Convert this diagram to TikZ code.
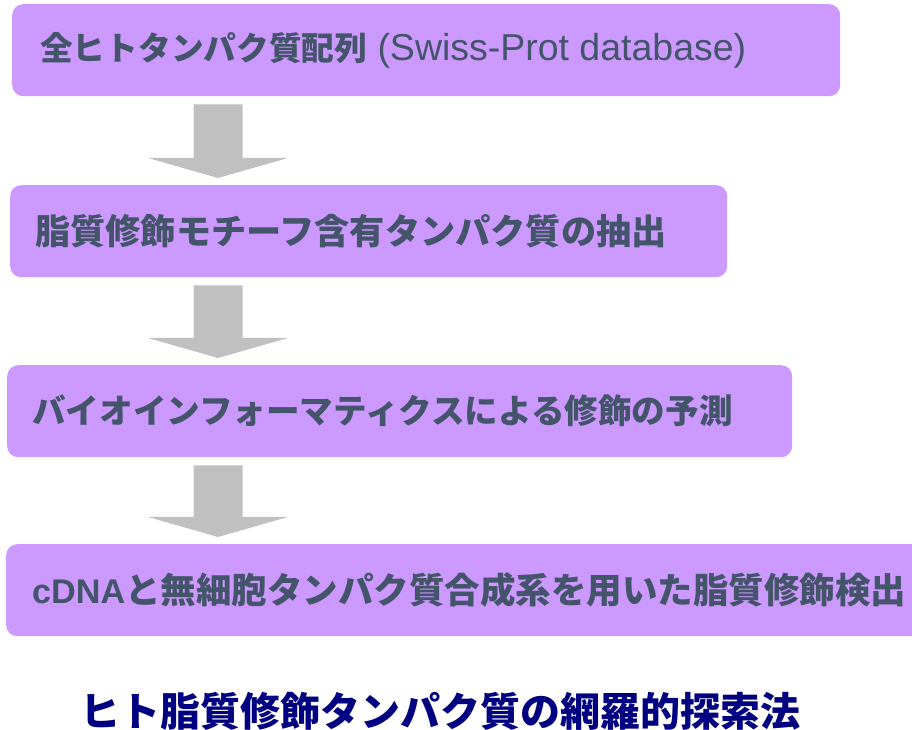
\documentclass[tikz,border=0pt]{standalone}
\usepackage{fontspec}
\setmainfont{Liberation Sans}
\newfontfamily\jp{Noto Sans CJK JP}
\newfontfamily\lat{Liberation Sans}
\usetikzlibrary{calc}
\definecolor{boxfill}{HTML}{CC99FF}
\definecolor{boxtext}{HTML}{44546A}
\definecolor{arrowfill}{HTML}{C0C0C0}
\definecolor{titlecol}{HTML}{000080}
\newcommand{\jpsize}[1]{\jp\bfseries\fontsize{#1}{40}\selectfont}
\newcommand{\latsize}[1]{\lat\mdseries\fontsize{#1}{40}\selectfont}
\newcommand{\gap}{\hspace{10.3pt}}
\tikzset{
  stepbox/.style={fill=boxfill, draw=none, rounded corners=11pt, anchor=north west,
    minimum height=92pt, inner xsep=0pt, inner ysep=0pt, align=left, text=boxtext},
  titletext/.style={font=\jp\bfseries\fontsize{40}{44}\selectfont, text=titlecol}
}
\newcommand{\blockarrow}[2]{%
  \fill[arrowfill] let \p1=(#1.south), \p2=(#2.north) in
    (193.5pt,\y1-8pt) -- (242.5pt,\y1-8pt) -- (242.5pt,\y2+27pt) -- (288pt,\y2+27pt)
    -- (218pt,\y2+7pt) -- (148pt,\y2+27pt) -- (193.5pt,\y2+27pt) -- cycle;}
\begin{document}
\begin{tikzpicture}[x=1pt,y=1pt]
\useasboundingbox (0,0) rectangle (912,730);
\node[stepbox, minimum width=828pt, text width=828pt] (b1) at (12,726)
  {\hspace*{28pt}{\jpsize{32.7}全ヒトタンパク質配列}\gap{\latsize{37.5}(Swiss-Prot\gap database)}};
\node[stepbox, minimum width=717pt, text width=717pt] (b2) at (10,545)
  {\hspace*{25pt}{\jpsize{35.2}脂質修飾モチーフ含有タンパク質の抽出}};
\node[stepbox, minimum width=785pt, text width=785pt] (b3) at (7,365)
  {\hspace*{25pt}{\jpsize{33.6}バイオインフォーマティクスによる修飾の予測}};
\node[stepbox, minimum width=940pt, text width=940pt] (b4) at (6,186)
  {\hspace*{26pt}{\lat\bfseries\fontsize{34.2}{40}\selectfont cDNA}{\jpsize{35.5}と無細胞タンパク質合成系を用いた脂質修飾検出}};
\blockarrow{b1}{b2}
\blockarrow{b2}{b3}
\blockarrow{b3}{b4}
\node[titletext] (title) at (440,19) {ヒト脂質修飾タンパク質の網羅的探索法};
\end{tikzpicture}
\end{document}
